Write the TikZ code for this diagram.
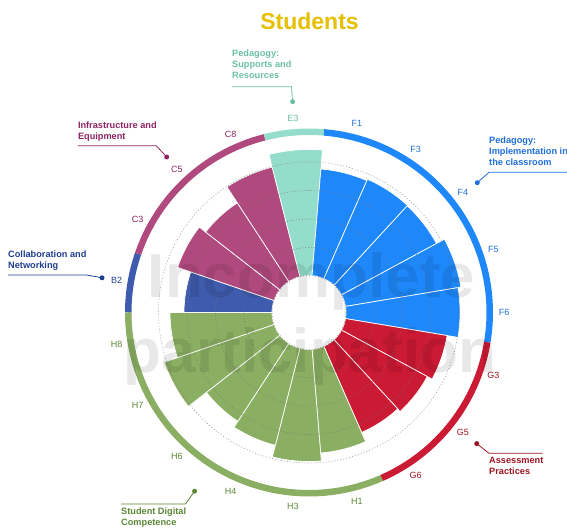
\documentclass[tikz,border=0pt]{standalone}
\usepackage{fontspec}
\setmainfont{Liberation Sans}
\definecolor{titleY}{HTML}{E5BF00}
\definecolor{barB}{HTML}{3F5BAE}
\definecolor{barC}{HTML}{B04A7E}
\definecolor{barE}{HTML}{94DCCB}
\definecolor{barF}{HTML}{1E88FB}
\definecolor{barG}{HTML}{CB1A34}
\definecolor{barH}{HTML}{8BAF62}
\definecolor{txtB}{HTML}{1E3F8F}
\definecolor{txtC}{HTML}{8E2462}
\definecolor{txtE}{HTML}{6BBFA5}
\definecolor{txtF}{HTML}{1E6FD8}
\definecolor{txtG}{HTML}{9E1420}
\definecolor{txtH}{HTML}{5A8636}
\begin{document}
\begin{tikzpicture}[x=1pt,y=1pt,
  lbl/.style={font=\fontsize{9}{10}\selectfont, inner sep=0},
  ann/.style={font=\bfseries\fontsize{9.2}{11}\selectfont, align=left, inner sep=0, anchor=north west},
  lead/.style={line width=0.8pt},
  gridcirc/.style={black!55, opacity=0.7, line width=0.6pt, dash pattern=on 1pt off 2pt},
  mark wm/.style={font=\bfseries\fontsize{62}{62}\selectfont, text=black, text opacity=0.09, anchor=base, inner sep=0}]
  \useasboundingbox (0,0) rectangle (567,528);
  \node[font=\bfseries\fontsize{23}{26}\selectfont, text=titleY, anchor=base] (title) at (309.5,498.7) {Students};

  \begin{scope}[shift={(309,215.5)}]
    \pgfmathsetmacro\da{360/19}
    \pgfmathsetmacro\hole{37}
    % bars, clockwise from the left
    \foreach \lab/\r/\col/\tc [count=\i] in {B2/125/barB/txtB, C3/139/barC/txtC, C5/131/barC/txtC,
        C8/150/barC/txtC, E3/163/barE/txtE, F1/144/barF/txtF, F3/145.5/barF/txtF, F4/145/barF/txtF,
        F5/154/barF/txtF, F6/151/barF/txtF, G3/140/barG/txtG, G5/134.5/barG/txtG, G6/131/barG/txtG,
        H1/141/barH/txtH, H3/149/barH/txtH, H4/137/barH/txtH, H6/130/barH/txtH, H7/153/barH/txtH,
        H8/139/barH/txtH} {
      \pgfmathsetmacro\s{180-(\i-1)*\da}
      \pgfmathsetmacro\e{\s-\da}
      \pgfmathsetmacro\m{\s-\da/2}
      \filldraw[fill=\col, draw=white, line width=0.7pt]
        (\s:\hole) arc[start angle=\s, end angle=\e, radius=\hole]
        -- (\e:\r) arc[start angle=\e, end angle=\s, radius=\r] -- cycle;
      \node[lbl, text=\tc] (l\lab) at (\m:195) {\lab};
    }
    % grid
    \foreach \gr in {37,65,93.5,122,150.5}
      \draw[gridcirc] (0,0) circle[radius=\gr];
    % outer ring
    \foreach \a/\b/\col in {180/161.05/barB, 161.05/104.21/barC, 104.21/85.26/barE,
        85.26/-9.47/barF, -9.47/-66.32/barG, -66.32/-180/barH}
      \draw[\col, line width=6.5pt] (\a:180.75) arc[start angle=\a, end angle=\b, radius=180.75];
  \end{scope}

  \node[mark wm] (wmA) at (311.5,231) {Incomplete};
  \node[mark wm] (wmB) at (310,156) {participation};

  % group notes
  \node[ann, text=txtE] (annE) at (232,478.1) {Pedagogy:\\Supports and\\Resources};
  \coordinate (eA) at (232,441.3);
  \coordinate (eB) at (291.5,441.3);
  \coordinate (eDot) at (292.6,426.3);
  \draw[lead, txtE] (eA) -- (eB) -- (eDot);
  \fill[txtE] (eDot) circle (2.5);

  \node[ann, text=txtC] (annC) at (77.8,406.7) {Infrastructure and\\Equipment};
  \coordinate (cA) at (77.8,382.3);
  \coordinate (cB) at (156.2,382.3);
  \coordinate (cDot) at (166.7,371);
  \draw[lead, txtC] (cA) -- (cB) -- (cDot);
  \fill[txtC] (cDot) circle (2.5);

  \node[ann, text=txtF] (annF) at (489,391.4) {Pedagogy:\\Implementation in\\the classroom};
  \coordinate (fA) at (570,355.7);
  \coordinate (fB) at (489,355.7);
  \coordinate (fDot) at (477.3,345.3);
  \draw[lead, txtF] (fA) -- (fB) -- (fDot);
  \fill[txtF] (fDot) circle (2.5);

  \node[ann, text=txtB] (annB) at (8,277.4) {Collaboration and\\Networking};
  \coordinate (bA) at (8,253);
  \coordinate (bB) at (86.8,253);
  \coordinate (bDot) at (102,250.2);
  \draw[lead, txtB] (bA) -- (bB) -- (bDot);
  \fill[txtB] (bDot) circle (2.5);

  \node[ann, text=txtG] (annG) at (489,71.3) {Assessment\\Practices};
  \coordinate (gA) at (542.5,74.7);
  \coordinate (gB) at (489,74.7);
  \coordinate (gDot) at (476.7,84.4);
  \draw[lead, txtG] (gA) -- (gB) -- (gDot);
  \fill[txtG] (gDot) circle (2.5);

  \node[ann, text=txtH] (annH) at (121,20.7) {Student Digital\\Competence};
  \coordinate (hA) at (121,24.1);
  \coordinate (hB) at (185.5,24.1);
  \coordinate (hDot) at (194.6,36.8);
  \draw[lead, txtH] (hA) -- (hB) -- (hDot);
  \fill[txtH] (hDot) circle (2.5);
\end{tikzpicture}
\end{document}
